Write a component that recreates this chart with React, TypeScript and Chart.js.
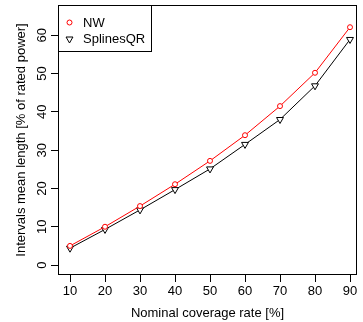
import React, { useEffect, useRef } from 'react';
import { Chart, registerables } from 'chart.js';

Chart.register(...registerables);

const coverage = [10, 20, 30, 40, 50, 60, 70, 80, 90];
const nwLength = [5.0, 10.0, 15.4, 21.1, 27.2, 33.9, 41.5, 50.2, 62.1];
const splinesQRLength = [4.4, 9.3, 14.4, 19.7, 25.1, 31.5, 38.0, 46.8, 58.9];
const xTicks = [10, 20, 30, 40, 50, 60, 70, 80, 90];
const yTicks = [0, 10, 20, 30, 40, 50, 60];
const seriesNames = ['NW', 'SplinesQR'];
const xTitle = 'Nominal coverage rate [%]';
const yTitle = 'Intervals mean length [% of rated power]';

const FONT = '"Liberation Sans", Arial, sans-serif';
const RED = 'rgb(255,0,0)';

const drawCircle = (ctx: CanvasRenderingContext2D, x: number, y: number, r: number, color: string) => {
  ctx.beginPath();
  ctx.arc(x, y, r, 0, Math.PI * 2);
  ctx.fillStyle = '#fff';
  ctx.fill();
  ctx.strokeStyle = color;
  ctx.lineWidth = 1;
  ctx.stroke();
};

const drawDownTriangle = (ctx: CanvasRenderingContext2D, x: number, y: number, r: number, color: string) => {
  ctx.beginPath();
  for (let i = 0; i < 3; i++) {
    const a = Math.PI + (i * 2 * Math.PI) / 3;
    const px = x + Math.sin(a) * r;
    const py = y - Math.cos(a) * r;
    if (i === 0) ctx.moveTo(px, py);
    else ctx.lineTo(px, py);
  }
  ctx.closePath();
  ctx.fillStyle = '#fff';
  ctx.fill();
  ctx.strokeStyle = color;
  ctx.lineWidth = 1;
  ctx.stroke();
};

const rStylePlugin = {
  id: 'rStyle',
  afterDraw(chart: any) {
    const { ctx, chartArea: a, scales } = chart;
    ctx.save();
    // plot box
    ctx.strokeStyle = '#000';
    ctx.lineWidth = 1;
    const l = Math.round(a.left) + 0.5;
    const t = Math.round(a.top) + 0.5;
    const r = Math.round(a.right) - 0.5;
    const b = Math.round(a.bottom) - 0.5;
    ctx.strokeRect(l, t, r - l, b - t);

    // rotated y tick labels
    ctx.fillStyle = '#000';
    ctx.font = `13px ${FONT}`;
    ctx.textAlign = 'center';
    ctx.textBaseline = 'middle';
    yTicks.forEach((v) => {
      const y = scales.y.getPixelForValue(v);
      ctx.save();
      ctx.translate(42, y);
      ctx.rotate(-Math.PI / 2);
      ctx.fillText(String(v), 0, 0);
      ctx.restore();
    });

    // legend
    const lx = l;
    const ly = t;
    const lw = 93;
    const lh = 46;
    ctx.fillStyle = '#fff';
    ctx.fillRect(lx, ly, lw, lh);
    ctx.strokeStyle = '#000';
    ctx.strokeRect(lx, ly, lw, lh);
    const ds = chart.data.datasets;
    ds.forEach((d: any, i: number) => {
      const cy = ly + 17 + i * 16.5;
      if (d.pointStyle === 'circle') drawCircle(ctx, lx + 11, cy, 2.5, d.borderColor);
      else drawDownTriangle(ctx, lx + 11, cy, 4, d.borderColor);
      ctx.fillStyle = '#000';
      ctx.textAlign = 'left';
      ctx.textBaseline = 'middle';
      ctx.font = `13px ${FONT}`;
      ctx.fillText(d.label, lx + 24.5, cy + 0.5);
    });
    ctx.restore();
  },
};

export default function App() {
  const ref = useRef<HTMLCanvasElement | null>(null);
  useEffect(() => {
    if (!ref.current) return;
    const chart = new Chart(ref.current, {
      type: 'scatter',
      data: {
        datasets: [
          {
            label: seriesNames[0],
            data: coverage.map((x, i) => ({ x, y: nwLength[i] })),
            showLine: true,
            borderColor: RED,
            borderWidth: 1,
            pointStyle: 'circle',
            pointRadius: 2.5,
            pointBorderWidth: 1,
            pointBorderColor: RED,
            pointBackgroundColor: '#fff',
          },
          {
            label: seriesNames[1],
            data: coverage.map((x, i) => ({ x, y: splinesQRLength[i] })),
            showLine: true,
            borderColor: '#000',
            borderWidth: 1,
            pointStyle: 'triangle',
            pointRotation: 180,
            pointRadius: 4,
            pointBorderWidth: 1,
            pointBorderColor: '#000',
            pointBackgroundColor: '#fff',
          },
        ],
      },
      options: {
        animation: false,
        responsive: false,
        devicePixelRatio: 1,
        layout: { padding: { left: 0, right: 6, top: 5, bottom: 0 } },
        plugins: { legend: { display: false }, tooltip: { enabled: false }, title: { display: false } },
        scales: {
          x: {
            type: 'linear',
            min: 6.571,
            max: 92.0,
            afterBuildTicks: (s: any) => {
              s.ticks = xTicks.map((v) => ({ value: v }));
            },
            afterFit: (s: any) => {
              s.height = 47;
            },
            grid: { display: true, drawOnChartArea: false, drawTicks: true, tickLength: 7, color: '#000', lineWidth: 1 },
            border: { display: false },
            ticks: { color: '#000', font: { family: FONT, size: 13 }, padding: 2, maxRotation: 0, autoSkip: false },
            title: { display: true, text: xTitle, color: '#000', font: { family: FONT, size: 13 }, padding: { top: 0, bottom: 1 } },
          },
          y: {
            type: 'linear',
            min: -2.6,
            max: 67.9,
            afterBuildTicks: (s: any) => {
              s.ticks = yTicks.map((v) => ({ value: v }));
            },
            afterFit: (s: any) => {
              s.width = 58;
            },
            grid: { display: true, drawOnChartArea: false, drawTicks: true, tickLength: 7, color: '#000', lineWidth: 1 },
            border: { display: false },
            ticks: { display: false },
            title: { display: true, text: yTitle, color: '#000', font: { family: FONT, size: 13 }, padding: { top: 14, bottom: 0 } },
          },
        },
      },
      plugins: [rStylePlugin],
    } as any);
    return () => chart.destroy();
  }, []);
  return (
    <div style={{ position: 'absolute', left: 0, top: 0, width: 363, height: 322, background: '#fff' }}>
      <canvas ref={ref} width={363} height={322} style={{ display: 'block' }} />
    </div>
  );
}
